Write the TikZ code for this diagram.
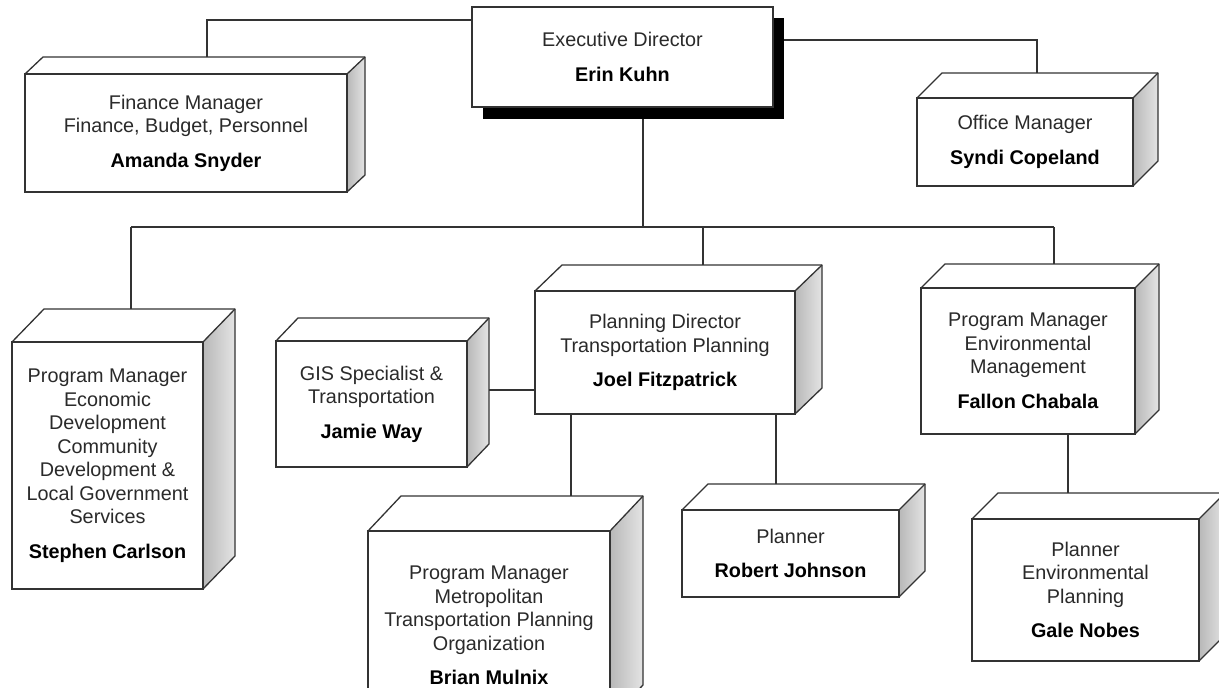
\documentclass[tikz,border=0pt]{standalone}
\usepackage{fontspec}
\setmainfont{Liberation Sans}
\definecolor{ln}{HTML}{333333}
\definecolor{tx}{HTML}{2A2A2A}
\definecolor{sideL}{HTML}{B8B8B8}
\definecolor{sideR}{HTML}{E4E4E4}
\tikzset{
  edge/.style={draw=ln, line width=1.3pt},
  facefront/.style={draw=ln, line width=1.3pt, fill=white, inner sep=0pt, outer sep=0pt,
    align=center, text=tx, font=\fontsize{19.8}{23.5}\selectfont},
}
\newcommand\nm[1]{\\[11pt]\textbf{\color{black}#1}}
% #1 name, #2 x1, #3 y1, #4 x2, #5 y2, #6 dx, #7 dy, #8 text
\newcommand\boxthree[8]{%
  \fill[white] (#2,#3) -- ({#2+#6},{#3-#7}) -- ({#4+#6},{#3-#7}) -- (#4,#3) -- cycle;
  \shade[left color=sideL, right color=sideR] (#4,#3) -- ({#4+#6},{#3-#7}) -- ({#4+#6},{#5-#7}) -- (#4,#5) -- cycle;
  \draw[edge, line join=round] (#2,#3) -- ({#2+#6},{#3-#7}) -- ({#4+#6},{#3-#7}) -- ({#4+#6},{#5-#7}) -- (#4,#5);
  \draw[edge] (#4,#3) -- ({#4+#6},{#3-#7});
  \node[facefront, minimum width={(#4-#2)*1pt}, minimum height={(#5-#3)*1pt}] (#1) at ({(#2+#4)/2},{(#3+#5)/2}) {#8};
}
\begin{document}
\begin{tikzpicture}[x=1pt,y=-1pt]
\useasboundingbox (0,0) rectangle (1219,688);
\clip (0,0) rectangle (1219,688);
\fill[white] (0,0) rectangle (1219,688);

% Executive director
\fill[black] (483,18) rectangle (784,119);
\node[facefront, minimum width=301pt, minimum height=100pt] (exec) at (622.5,57)
  {Executive Director\nm{Erin Kuhn}};

\boxthree{fin}{25}{74}{347}{192}{18}{17}{Finance Manager\\Finance, Budget, Personnel\nm{Amanda Snyder}}
\boxthree{off}{917}{98}{1133}{186}{25}{25}{Office Manager\nm{Syndi Copeland}}
\boxthree{eco}{12}{342}{203}{589}{32}{33}{Program Manager\\Economic\\Development\\Community\\Development \&\\Local Government\\Services\nm{Stephen Carlson}}
\boxthree{gis}{276}{341}{467}{467}{22}{23}{GIS Specialist \&\\Transportation\nm{Jamie Way}}
\boxthree{pla}{535}{291}{795}{414}{27}{26}{Planning Director\\Transportation Planning\nm{Joel Fitzpatrick}}
\boxthree{env}{921}{288}{1135}{434}{24}{24}{Program Manager\\Environmental\\Management\nm{Fallon Chabala}}
\boxthree{mpo}{368}{531}{610}{720}{33}{35}{Program Manager\\Metropolitan\\Transportation Planning\\Organization\nm{Brian Mulnix}}
\boxthree{rob}{682}{510}{899}{597}{26}{26}{Planner\nm{Robert Johnson}}
\boxthree{gal}{972}{519}{1199}{661}{26}{26}{Planner\\Environmental\\Planning\nm{Gale Nobes}}

% connection points
\coordinate (finT) at (207,57);
\coordinate (exL) at (472,20);
\coordinate (offT) at (1037,73);
\coordinate (exR) at (784,40);
\coordinate (exB) at (643,119);
\coordinate (busC) at (643,227);
\coordinate (busL) at (131,227);
\coordinate (busR) at (1054,227);
\coordinate (busM) at (703,227);
\coordinate (ecoT) at (131,309);
\coordinate (plaT) at (703,265);
\coordinate (envT) at (1054,264);
\coordinate (gisR) at (489,390);
\coordinate (plaBL) at (571,414);
\coordinate (mpoT) at (571,496);
\coordinate (plaBR) at (776,414);
\coordinate (robT) at (776,484);
\coordinate (envB) at (1068,434);
\coordinate (galT) at (1068,493);

\draw[edge] (finT) |- (exL);
\draw[edge] (offT) |- (exR);
\draw[edge] (exB) -- (busC);
\draw[edge] (busL) -- (busR);
\draw[edge] (busL) -- (ecoT);
\draw[edge] (busM) -- (plaT);
\draw[edge] (busR) -- (envT);
\draw[edge] (gisR) -- (pla.west |- gisR);
\draw[edge] (plaBL) -- (mpoT);
\draw[edge] (plaBR) -- (robT);
\draw[edge] (envB) -- (galT);
\end{tikzpicture}
\end{document}
